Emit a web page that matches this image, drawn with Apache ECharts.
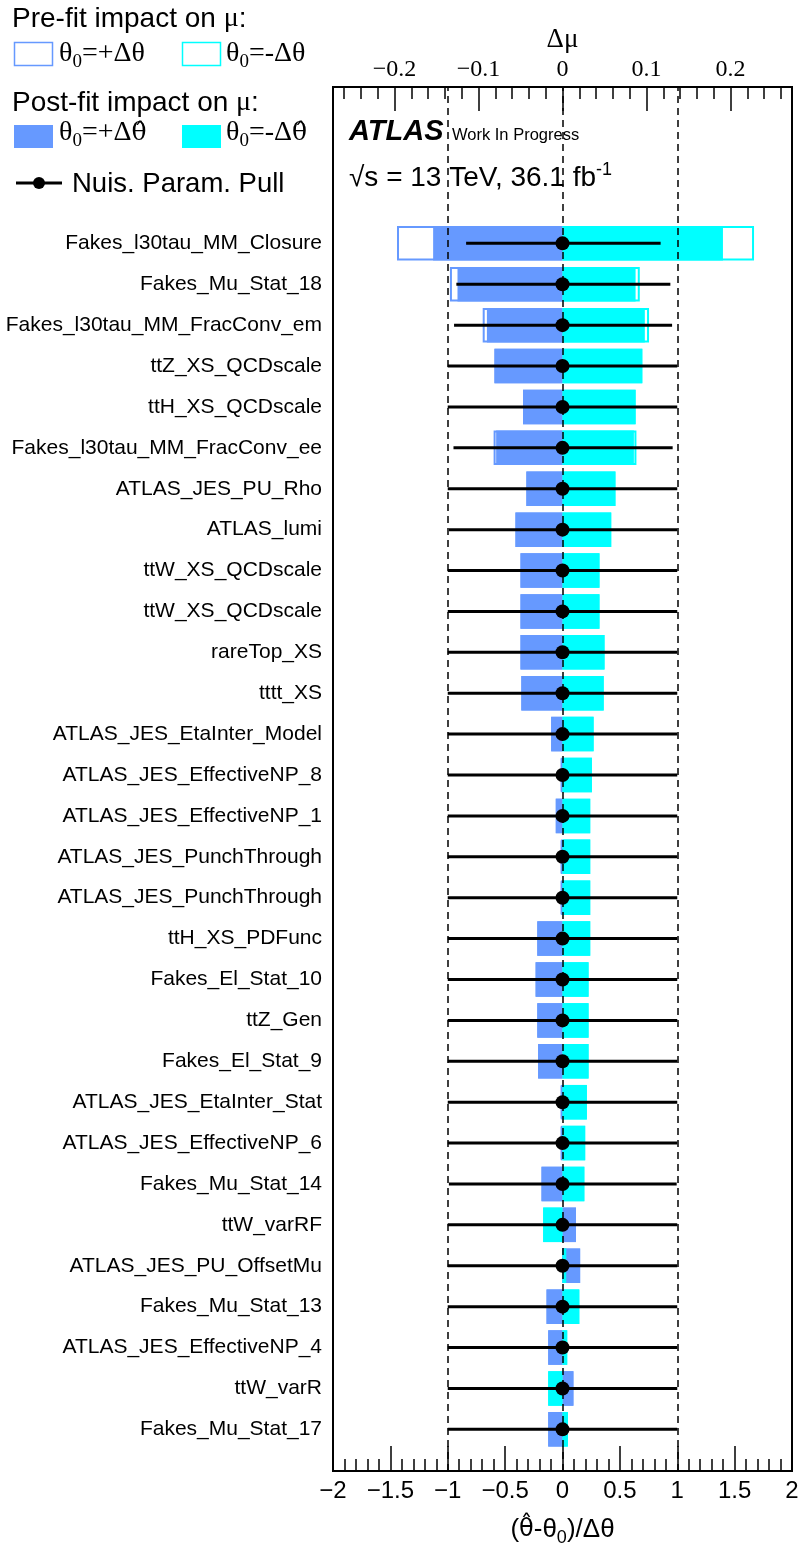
<!DOCTYPE html>
<html>
<head>
<meta charset="utf-8">
<script src="https://cdn.jsdelivr.net/npm/echarts@6/dist/echarts.min.js"></script>
<style>
html, body { margin: 0; padding: 0; background: #fff; }
#chart { width: 800px; height: 1548px; }
</style>
</head>
<body>
<div id="chart"></div>
<script>
// nuisance parameters, ranked top to bottom
var names = [
  'Fakes_l30tau_MM_Closure', 'Fakes_Mu_Stat_18', 'Fakes_l30tau_MM_FracConv_em', 'ttZ_XS_QCDscale',
  'ttH_XS_QCDscale', 'Fakes_l30tau_MM_FracConv_ee', 'ATLAS_JES_PU_Rho', 'ATLAS_lumi',
  'ttW_XS_QCDscale', 'ttW_XS_QCDscale', 'rareTop_XS', 'tttt_XS',
  'ATLAS_JES_EtaInter_Model', 'ATLAS_JES_EffectiveNP_8', 'ATLAS_JES_EffectiveNP_1', 'ATLAS_JES_PunchThrough',
  'ATLAS_JES_PunchThrough', 'ttH_XS_PDFunc', 'Fakes_El_Stat_10', 'ttZ_Gen',
  'Fakes_El_Stat_9', 'ATLAS_JES_EtaInter_Stat', 'ATLAS_JES_EffectiveNP_6', 'Fakes_Mu_Stat_14',
  'ttW_varRF', 'ATLAS_JES_PU_OffsetMu', 'Fakes_Mu_Stat_13', 'ATLAS_JES_EffectiveNP_4',
  'ttW_varR', 'Fakes_Mu_Stat_17'
];

// post-fit impact on mu (theta0 = +dtheta_hat / -dtheta_hat)
var postUp = [
  -0.154, -0.125, -0.090, -0.081, -0.047, -0.079, -0.043, -0.056,
  -0.050, -0.050, -0.050, -0.049, -0.0135, -0.002, -0.008, -0.002,
  -0.002, -0.030, -0.032, -0.030, -0.029, -0.002, -0.002, -0.025,
  0.016, 0.021, -0.019, -0.017, 0.013, -0.017
];
var postDown = [
  0.191, 0.087, 0.098, 0.095, 0.087, 0.085, 0.063, 0.058,
  0.044, 0.044, 0.050, 0.049, 0.037, 0.035, 0.033, 0.033,
  0.033, 0.033, 0.031, 0.031, 0.031, 0.029, 0.027, 0.026,
  -0.023, 0.0045, 0.020, 0.0056, -0.017, 0.0064
];

// pre-fit impact on mu (theta0 = +dtheta / -dtheta)
var preUp = [
  -0.197, -0.134, -0.095, -0.081, -0.047, -0.082, -0.043, -0.056,
  -0.050, -0.050, -0.050, -0.049, -0.0135, -0.002, -0.008, -0.002,
  -0.002, -0.030, -0.032, -0.030, -0.029, -0.002, -0.002, -0.025,
  0.016, 0.021, -0.019, -0.017, 0.013, -0.017
];
var preDown = [
  0.228, 0.092, 0.103, 0.095, 0.087, 0.088, 0.063, 0.058,
  0.044, 0.044, 0.050, 0.049, 0.037, 0.035, 0.033, 0.033,
  0.033, 0.033, 0.031, 0.031, 0.031, 0.029, 0.027, 0.026,
  -0.023, 0.0045, 0.020, 0.0056, -0.017, 0.0064
];

// nuisance parameter pulls and their errors
var pulls = [
  0, 0, 0, 0, 0, 0, 0, 0, 0, 0, 0, 0, 0, 0, 0,
  0, 0, 0, 0, 0, 0, 0, 0, 0, 0, 0, 0, 0, 0, 0
];
var pullErrLo = [
  0.84, 0.925, 0.945, 1, 1, 0.95, 1, 0.99, 1, 1, 1, 1, 1, 1, 1,
  1, 1, 1, 1, 1, 1, 1, 1, 0.99, 1, 1, 1, 1, 1, 1
];
var pullErrHi = [
  0.855, 0.94, 0.955, 1, 1, 0.96, 1, 1, 1, 1, 1, 1, 1, 1, 1,
  1, 1, 1, 1, 1, 1, 1, 1, 0.995, 1, 1, 1, 1, 1, 1
];

// axis ticks
var pullTicks = [-2, -1.5, -1, -0.5, 0, 0.5, 1, 1.5, 2];
var muTicks = [-0.2, -0.1, 0, 0.1, 0.2];
var guideLines = [-1, 0, 1];

var MU = 0.2732;   // delta mu at pull = 2
var muMinor = [];
for (var k = -13; k <= 13; k++) muMinor.push(+(k * 0.02).toFixed(2));
var pullMinor = [];
for (var j = -20; j <= 20; j++) pullMinor.push(+(j * 0.1).toFixed(1));

var BLUE = '#6699ff';
var CYAN = '#00ffff';
var SANS = '"Liberation Sans", Arial, sans-serif';
var SERIF = '"Liberation Serif", "Times New Roman", serif';
var HAT_SERIF = '"DejaVu Serif", serif';
var HAT_SANS = '"DejaVu Sans", sans-serif';

function minus(v) {
  return v < 0 ? '\u2212' + Math.abs(v) : String(v);
}

var chart = echarts.init(document.getElementById('chart'));

var frame = { left: 333, top: 87, width: 459, height: 1384, outerBoundsMode: 'none', containLabel: false };
var rows = { left: 333, top: 222.9, width: 459, height: 1226.9, outerBoundsMode: 'none', containLabel: false };

var pullData = names.map(function (n, i) {
  return [i, pulls[i], pullErrLo[i], pullErrHi[i]];
});

function txt(x, y, text, font, rich) {
  return {
    type: 'text', x: x, y: y, z: 100,
    style: {
      text: text, font: font, fill: '#000', rich: rich,
      textVerticalAlign: 'middle', verticalAlign: 'middle'
    }
  };
}

var legRich = {
  a: { fontFamily: SERIF, fontSize: 28, color: '#000' },
  h: { fontFamily: HAT_SERIF, fontSize: 25, color: '#000' },
  s: { fontFamily: SERIF, fontSize: 19, color: '#000', padding: [16, 0, 0, 0] }
};
var headRich = {
  a: { fontFamily: SANS, fontSize: 28, color: '#000' },
  m: { fontFamily: SERIF, fontSize: 28, color: '#000' }
};

function tickAxis(grid, pos, min, max, values, len) {
  return {
    gridIndex: grid, type: 'value', position: pos, min: min, max: max,
    axisLine: { show: false, onZero: false },
    axisTick: { show: true, inside: true, length: len, customValues: values,
      lineStyle: { color: '#000', width: 1.5 } },
    axisLabel: { show: false },
    splitLine: { show: false }
  };
}

chart.setOption({
  animation: false,
  backgroundColor: '#fff',
  grid: [
    Object.assign({ show: true, borderColor: '#000', borderWidth: 2, backgroundColor: 'transparent' }, frame),
    Object.assign({ show: false }, rows),
    Object.assign({ show: false }, frame),
    Object.assign({ show: false }, frame)
  ],
  xAxis: [
    {
      gridIndex: 0, type: 'value', position: 'bottom', min: -2, max: 2,
      axisLine: { show: true, onZero: false, lineStyle: { color: '#000', width: 2 } },
      axisTick: { show: true, inside: true, length: 25, customValues: pullTicks,
        lineStyle: { color: '#000', width: 1.5 } },
      splitLine: { show: false },
      axisLabel: {
        color: '#000', fontFamily: SANS, fontSize: 24, margin: 8,
        customValues: pullTicks, formatter: minus
      },
      name: '{a|(}{h|\u03b8\u0302}{a|-\u03b8}{s|0}{a|)/\u0394\u03b8}',
      nameLocation: 'middle', nameGap: 42,
      nameTextStyle: {
        rich: {
          a: { fontFamily: SANS, fontSize: 26, color: '#000' },
          h: { fontFamily: HAT_SANS, fontSize: 24, color: '#000' },
          s: { fontFamily: SANS, fontSize: 18, color: '#000', padding: [16, 0, 0, 0] }
        }
      }
    },
    {
      gridIndex: 0, type: 'value', position: 'top', min: -MU, max: MU,
      axisLine: { show: true, onZero: false, lineStyle: { color: '#000', width: 2 } },
      axisTick: { show: true, inside: true, length: 24, customValues: muTicks,
        lineStyle: { color: '#000', width: 1.5 } },
      splitLine: { show: false },
      axisLabel: {
        color: '#000', fontFamily: SERIF, fontSize: 24, margin: 5,
        customValues: muTicks, formatter: minus
      },
      name: '\u0394\u03bc', nameLocation: 'middle', nameGap: 34,
      nameTextStyle: { fontFamily: SERIF, fontSize: 27, color: '#000' }
    },
    tickAxis(2, 'top', -MU, MU, muMinor, 12),
    { gridIndex: 1, type: 'value', min: -2, max: 2, show: false },
    { gridIndex: 1, type: 'value', min: -MU, max: MU, show: false },
    tickAxis(3, 'bottom', -2, 2, pullMinor, 12)
  ],
  yAxis: [
    { gridIndex: 0, type: 'value', min: 0, max: 1, show: false },
    {
      gridIndex: 1, type: 'category', data: names, inverse: true,
      axisLine: { show: false }, axisTick: { show: false }, splitLine: { show: false },
      axisLabel: { color: '#000', fontFamily: SANS, fontSize: 21, margin: 11, interval: 0 }
    },
    { gridIndex: 2, type: 'value', min: 0, max: 1, show: false },
    { gridIndex: 3, type: 'value', min: 0, max: 1, show: false }
  ],
  series: [
    {
      name: 'pre up', type: 'bar', xAxisIndex: 4, yAxisIndex: 1, data: preUp,
      barWidth: 34.5, barGap: '-100%', z: 2,
      itemStyle: { color: '#fff', borderColor: BLUE, borderWidth: 2 }
    },
    {
      name: 'pre down', type: 'bar', xAxisIndex: 4, yAxisIndex: 1, data: preDown,
      barWidth: 34.5, barGap: '-100%', z: 2,
      itemStyle: { color: '#fff', borderColor: CYAN, borderWidth: 2 }
    },
    {
      name: 'post up', type: 'bar', xAxisIndex: 4, yAxisIndex: 1, data: postUp,
      barWidth: 34.5, barGap: '-100%', z: 2,
      itemStyle: { color: BLUE }
    },
    {
      name: 'post down', type: 'bar', xAxisIndex: 4, yAxisIndex: 1, data: postDown,
      barWidth: 34.5, barGap: '-100%', z: 2,
      itemStyle: { color: CYAN }
    },
    {
      name: 'guides', type: 'line', xAxisIndex: 0, yAxisIndex: 0, data: [],
      markLine: {
        silent: true, symbol: 'none', animation: false,
        label: { show: false },
        lineStyle: { color: '#000', type: [7, 5], width: 1.5 },
        data: guideLines.map(function (v) { return { xAxis: v }; })
      }
    },
    {
      name: 'pull', type: 'custom', xAxisIndex: 3, yAxisIndex: 1, z: 10,
      encode: { x: 1, y: 0 },
      data: pullData,
      renderItem: function (params, api) {
        var cat = api.value(0);
        var p = api.value(1);
        var c = api.coord([p, cat]);
        var lo = api.coord([p - api.value(2), cat]);
        var hi = api.coord([p + api.value(3), cat]);
        return {
          type: 'group',
          children: [
            { type: 'line', shape: { x1: lo[0], y1: c[1], x2: hi[0], y2: c[1] },
              style: { stroke: '#000', lineWidth: 3 } },
            { type: 'circle', shape: { cx: c[0], cy: c[1], r: 7 },
              style: { fill: '#000' } }
          ]
        };
      }
    }
  ],
  graphic: [
    txt(12, 19, '{a|Pre-fit impact on }{m|\u03bc}{a|:}', '28px ' + SANS, headRich),
    { type: 'rect', shape: { x: 14.5, y: 42.5, width: 38, height: 23 },
      style: { fill: '#fff', stroke: BLUE, lineWidth: 1.5 } },
    txt(59, 54, '{a|\u03b8}{s|0}{a|=+\u0394\u03b8}', '28px ' + SERIF, legRich),
    { type: 'rect', shape: { x: 182.5, y: 42.5, width: 38, height: 23 },
      style: { fill: '#fff', stroke: CYAN, lineWidth: 1.5 } },
    txt(226, 54, '{a|\u03b8}{s|0}{a|=-\u0394\u03b8}', '28px ' + SERIF, legRich),
    txt(12, 103, '{a|Post-fit impact on }{m|\u03bc}{a|:}', '28px ' + SANS, headRich),
    { type: 'rect', shape: { x: 14, y: 125, width: 39, height: 23 }, style: { fill: BLUE } },
    txt(59, 133, '{a|\u03b8}{s|0}{a|=+\u0394}{h|\u03b8\u0302}', '28px ' + SERIF, legRich),
    { type: 'rect', shape: { x: 182, y: 125, width: 39, height: 23 }, style: { fill: CYAN } },
    txt(226, 133, '{a|\u03b8}{s|0}{a|=-\u0394}{h|\u03b8\u0302}', '28px ' + SERIF, legRich),
    { type: 'line', shape: { x1: 16, y1: 183, x2: 62, y2: 183 }, style: { stroke: '#000', lineWidth: 3 } },
    { type: 'circle', shape: { cx: 39, cy: 183, r: 6 }, style: { fill: '#000' } },
    txt(72, 184, 'Nuis. Param. Pull', '27.5px ' + SANS),
    txt(349, 132, 'ATLAS', 'italic bold 29px ' + SANS),
    txt(452, 135, 'Work In Progress', '16.5px ' + SANS),
    txt(349, 178, '{a|\u221as = 13 TeV, 36.1 fb}{p|-1}', '28px ' + SANS, {
      a: { fontFamily: SANS, fontSize: 28, color: '#000' },
      p: { fontFamily: SANS, fontSize: 18, color: '#000', padding: [0, 0, 16, 0] }
    })
  ]
});
</script>
</body>
</html>
